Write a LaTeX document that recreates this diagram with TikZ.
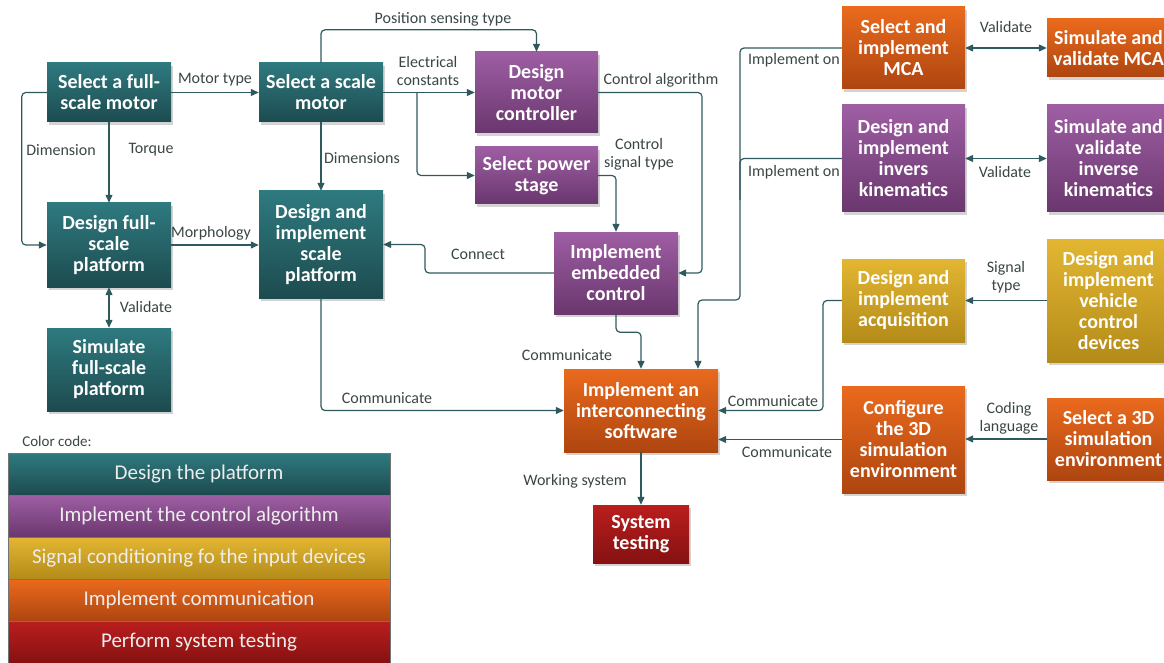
\documentclass[tikz,border=0pt]{standalone}
\usepackage{fontspec}
\setmainfont{Carlito}
\usetikzlibrary{arrows.meta,shadows}

% palette: one gradient per work package, plus connector and label inks
\definecolor{tealT}{HTML}{2E7A7F}
\definecolor{tealB}{HTML}{1D4B4F}
\definecolor{purpT}{HTML}{9E5EA3}
\definecolor{purpB}{HTML}{6A376E}
\definecolor{yellT}{HTML}{E3B632}
\definecolor{yellB}{HTML}{B38B19}
\definecolor{oranT}{HTML}{EA6A1D}
\definecolor{oranB}{HTML}{AE4510}
\definecolor{redT}{HTML}{BA1E1E}
\definecolor{redB}{HTML}{861111}
\definecolor{lineC}{HTML}{2F5A5D}
\definecolor{lblC}{HTML}{3A4646}

\begin{document}
\begin{tikzpicture}[x=1pt,y=-1pt,
  box/.style={inner sep=0pt, align=center, text=white,
    font=\bfseries\fontsize{20}{21}\selectfont,
    drop shadow={shadow xshift=2pt,shadow yshift=-3pt,opacity=0.35}},
  tealbox/.style={box, top color=tealT, bottom color=tealB},
  purpbox/.style={box, top color=purpT, bottom color=purpB},
  yellbox/.style={box, top color=yellT, bottom color=yellB},
  oranbox/.style={box, top color=oranT, bottom color=oranB},
  redbox/.style={box, top color=redT, bottom color=redB},
  legrow/.style={inner sep=0pt, minimum width=382pt, minimum height=42pt,
    text=white!93!black, font=\fontsize{21}{23}\selectfont,
    draw=black!55, line width=0.6pt},
  link/.style={draw=lineC, line width=1.2pt, rounded corners=4pt,
    -{Triangle[length=8pt,width=7pt]}},
  twoway/.style={link, {Triangle[length=8pt,width=7pt]}-{Triangle[length=8pt,width=7pt]}},
  plain/.style={draw=lineC, line width=1.2pt, rounded corners=4pt},
  lbl/.style={text=lblC, font=\fontsize{16}{18}\selectfont, align=center, inner sep=0pt}
]
\useasboundingbox (0,0) rectangle (1164,663);
\clip (0,0) rectangle (1164,663);

% ---- platform design
\node[tealbox, minimum width=124pt, minimum height=59pt]  (fullmotor)  at (109,92.5)  {Select a full-\\scale motor};
\node[tealbox, minimum width=124pt, minimum height=59pt]  (scalemotor) at (321,92.5)  {Select a scale\\motor};
\node[tealbox, minimum width=124pt, minimum height=84pt]  (fullplat)   at (109,245)   {Design full-\\scale\\platform};
\node[tealbox, minimum width=124pt, minimum height=107pt] (scaleplat)  at (321,244.5) {Design and\\implement\\scale\\platform};
\node[tealbox, minimum width=124pt, minimum height=83pt]  (simfull)    at (109,369.5) {Simulate\\full-scale\\platform};

% ---- control algorithm
\node[purpbox, minimum width=123pt, minimum height=81pt]  (motorctrl)  at (536.5,92.5)  {Design\\motor\\controller};
\node[purpbox, minimum width=123pt, minimum height=57pt]  (powerstage) at (536.5,175.5) {Select power\\stage};
\node[purpbox, minimum width=124pt, minimum height=82pt]  (embedded)   at (616,273)     {Implement\\embedded\\control};
\node[purpbox, minimum width=123pt, minimum height=107pt] (invkin)     at (903.5,158.5) {Design and\\implement\\invers\\kinematics};
\node[purpbox, minimum width=123pt, minimum height=107pt] (siminvkin)  at (1108.5,158.5){Simulate and\\validate\\inverse\\kinematics};

% ---- communication
\node[oranbox, minimum width=123pt, minimum height=82pt]  (mca)        at (903.5,48)    {Select and\\implement\\MCA};
\node[oranbox, minimum width=123pt, minimum height=58pt]  (simmca)     at (1108.5,48)   {Simulate and\\validate MCA};
\node[oranbox, minimum width=154pt, minimum height=83pt]  (interconn)  at (641,410.5)   {Implement an\\interconnecting\\software};
\node[oranbox, minimum width=123pt, minimum height=107pt] (config3d)   at (903.5,439.5) {Configure\\the 3D\\simulation\\environment};
\node[oranbox, minimum width=123pt, minimum height=82pt]  (select3d)   at (1108.5,439)  {Select a 3D\\simulation\\environment};

% ---- input devices
\node[yellbox, minimum width=123pt, minimum height=83pt]  (acq)        at (903.5,300.5) {Design and\\implement\\acquisition};
\node[yellbox, minimum width=123pt, minimum height=123pt] (vehicle)    at (1108.5,300.5){Design and\\implement\\vehicle\\control\\devices};

% ---- testing
\node[redbox, minimum width=96pt, minimum height=58pt]    (systest)    at (641,534)     {System\\testing};

% ---- connectors
\draw[link] (fullmotor.east) -- (scalemotor.west);
\draw[link] (fullmotor.west) -- ++(-25,0) |- (fullplat.west);
\draw[link] (fullmotor.south) -- (fullplat.north);
\draw[link] (fullplat.east) -- (fullplat.east -| scaleplat.west);
\draw[twoway] (fullplat.south) -- (simfull.north);
\draw[link] (scalemotor.south) -- (scaleplat.north);
\draw[link] (scalemotor.north) -- ++(0,-33) -| (motorctrl.north);
\draw[link] (scalemotor.east) -- (motorctrl.west);
\coordinate (split) at (417,92.5);
\draw[link] (split) |- (powerstage.west);
\coordinate (algoTurn) at (702,92.5);
\draw[link] (motorctrl.east) -- (algoTurn) |- (embedded.east);
\draw[link] (powerstage.east) -| (embedded.north);
\coordinate (connTurn) at (425,273);
\draw[link] (embedded.west) -- (connTurn) |- (scaleplat.east);
\draw[link] (embedded.south) -- ++(0,18) -| (interconn.north);
\coordinate (busTop) at (740,48);
\coordinate (busEnd) at (698,300);
\draw[link] (mca.west) -- (busTop) |- (busEnd) -- (busEnd |- interconn.north);
\draw[plain] (invkin.west) -- (740,158.5) -- (740,200);
\draw[twoway] (mca.east) -- (simmca.west);
\draw[twoway] (invkin.east) -- (siminvkin.west);
\draw[link] (vehicle.west) -- (acq.east);
\coordinate (acqTurn) at (823,300.5);
\draw[link] (acq.west) -- (acqTurn) |- (interconn.east);
\draw[link] (config3d.west) -- (config3d.west -| interconn.east);
\draw[link] (select3d.west) -- (select3d.west -| config3d.east);
\draw[link] (scaleplat.south) |- (interconn.west);
\draw[link] (interconn.south) -- (systest.north);

% ---- connector labels
\node[lbl] (l1)  at (215,80)   {Motor type};
\node[lbl] (l2)  at (443,19)   {Position sensing type};
\node[lbl] (l3)  at (428,71)   {Electrical\\constants};
\node[lbl] (l4)  at (661,80)   {Control algorithm};
\node[lbl] (l5)  at (639,154)  {Control\\signal type};
\node[lbl] (l6)  at (362,158)  {Dimensions};
\node[lbl] (l7)  at (61,150)   {Dimension};
\node[lbl] (l8)  at (151,150)  {Torque};
\node[lbl] (l9)  at (211,233)  {Morphology};
\node[lbl] (l10) at (146,307)  {Validate};
\node[lbl] (l11) at (478,254)  {Connect};
\node[lbl] (l12) at (567,355)  {Communicate};
\node[lbl] (l13) at (387,398)  {Communicate};
\node[lbl] (l14) at (794,60)   {Implement on};
\node[lbl] (l15) at (794,172)  {Implement on};
\node[lbl] (l16) at (1006,27)  {Validate};
\node[lbl] (l17) at (1005,172) {Validate};
\node[lbl] (l18) at (1006,277) {Signal\\type};
\node[lbl] (l19) at (773,401)  {Communicate};
\node[lbl] (l20) at (787,452)  {Communicate};
\node[lbl] (l21) at (1009,418) {Coding\\language};
\node[lbl] (l22) at (575,481)  {Working system};

% ---- colour legend
\node[lbl, font=\fontsize{15}{17}\selectfont] (legtitle) at (57,441) {Color code:};
\node[legrow, top color=tealT, bottom color=tealB] (lg1) at (199,474) {Design the platform};
\node[legrow, top color=purpT, bottom color=purpB] (lg2) at (199,516) {Implement the control algorithm};
\node[legrow, top color=yellT, bottom color=yellB] (lg3) at (199,558) {Signal conditioning fo the input devices};
\node[legrow, top color=oranT, bottom color=oranB] (lg4) at (199,600) {Implement communication};
\node[legrow, top color=redT,  bottom color=redB]  (lg5) at (199,642) {Perform system testing};
\end{tikzpicture}
\end{document}
